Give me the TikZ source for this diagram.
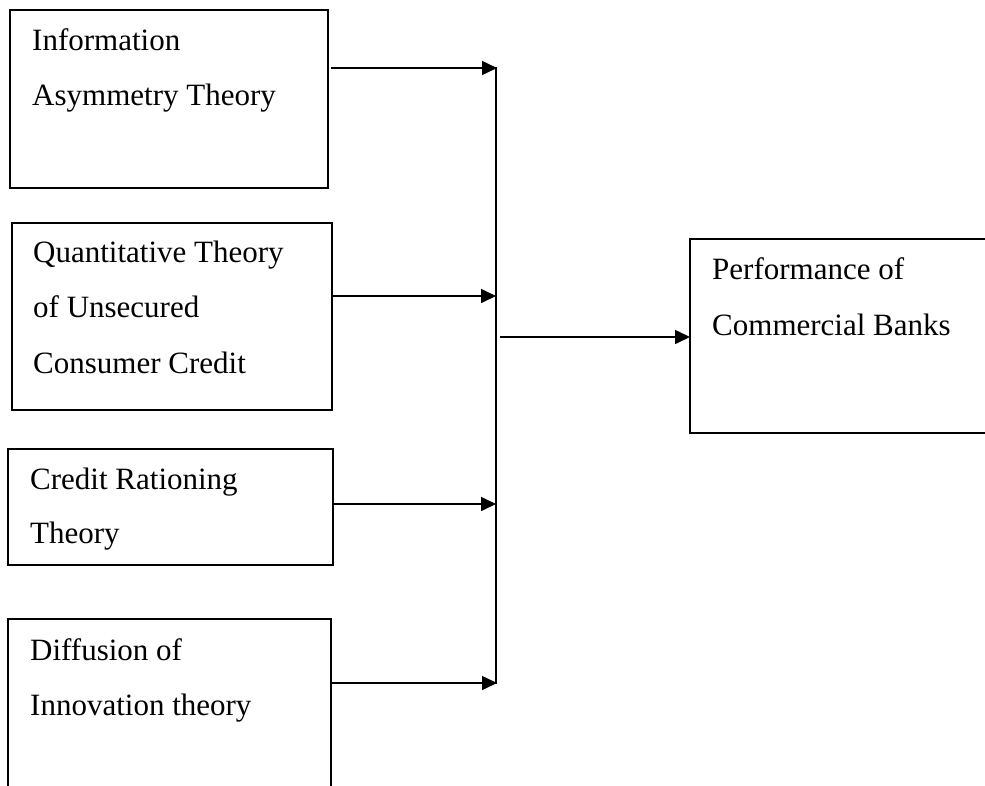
\documentclass[tikz,border=0pt]{standalone}
\usepackage{fontspec}
\setmainfont{Liberation Serif}
\usetikzlibrary{arrows.meta}
\begin{document}
\begin{tikzpicture}[x=1pt,y=-1pt,
  boxstyle/.style={draw,line width=1.2pt,rectangle,inner sep=0pt,outer sep=0pt},
  txt/.style={anchor=base west,inner sep=0pt,font=\fontsize{31}{56}\selectfont},
  arr/.style={line width=1.6pt,-{Triangle[length=15pt,width=14pt]}},
  ln/.style={line width=1.6pt}]
\useasboundingbox (0,0) rectangle (985,785);
\begin{scope}
\clip (0,0) rectangle (985,785);
\node[boxstyle,minimum width=318pt,minimum height=178pt] (b1) at (169,99) {};
\node[boxstyle,minimum width=320pt,minimum height=187pt] (b2) at (172,316.5) {};
\node[boxstyle,minimum width=325pt,minimum height=116pt] (b3) at (170.5,507) {};
\node[boxstyle,minimum width=323pt,minimum height=181pt] (b4) at (169.5,709.5) {};
\node[boxstyle,minimum width=305pt,minimum height=194pt] (out) at (842.5,336) {};
\end{scope}
\node[txt] (t1a) at (32,50) {Information};
\node[txt] (t1b) at (32,105) {Asymmetry Theory};
\node[txt] (t2a) at (33,262) {Quantitative Theory};
\node[txt] (t2b) at (33,317) {of Unsecured};
\node[txt] (t2c) at (33,373) {Consumer Credit};
\node[txt] (t3a) at (30,489) {Credit Rationing};
\node[txt] (t3b) at (30,543) {Theory};
\node[txt] (t4a) at (30,660) {Diffusion of};
\node[txt] (t4b) at (30,715) {Innovation theory};
\node[txt] (t5a) at (712,279) {Performance of};
\node[txt] (t5b) at (712,335) {Commercial Banks};
\coordinate (j1) at (497,68);
\coordinate (j2) at (496,296);
\coordinate (j3) at (496,504);
\coordinate (j4) at (497,683);
\coordinate (jtop) at (496,67);
\coordinate (jbot) at (496,683.8);
\coordinate (jo) at (500,337);
\draw[ln] (jtop) -- (jbot);
\draw[arr] ([xshift=3pt]b1.east |- j1) -- (j1);
\draw[arr] ([xshift=1pt]b2.east |- j2) -- (j2);
\draw[arr] ([xshift=1pt]b3.east |- j3) -- (j3);
\draw[arr] ([xshift=1pt]b4.east |- j4) -- (j4);
\draw[arr] (jo) -- (out.west |- jo);
\end{tikzpicture}
\end{document}
